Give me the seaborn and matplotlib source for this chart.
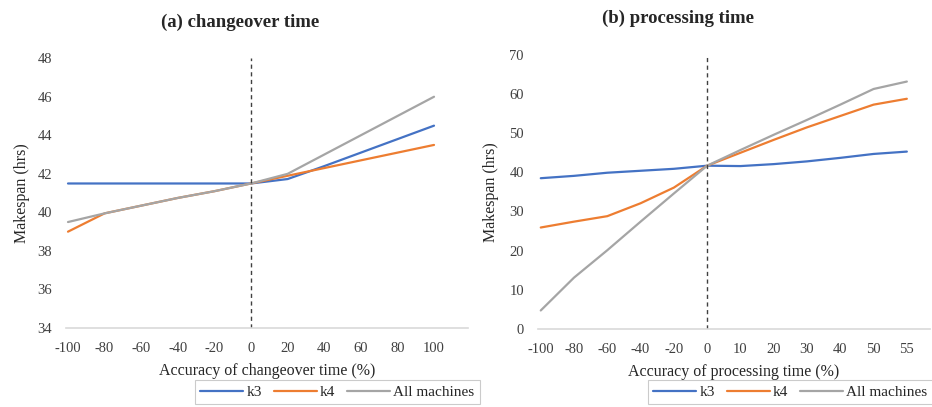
import matplotlib
matplotlib.use("Agg")
import matplotlib.pyplot as plt
import seaborn as sns
import numpy as np
import pandas as pd

# (a) changeover time accuracy
co_x = [-100, -80, -60, -40, -20, 0, 20, 40, 60, 80, 100]
co_k3 = [41.5, 41.5, 41.5, 41.5, 41.5, 41.5, 41.73, 42.4, 43.1, 43.8, 44.5]
co_k4 = [39.0, 39.95, 40.35, 40.75, 41.1, 41.5, 41.9, 42.3, 42.7, 43.1, 43.5]
co_all = [39.5, 39.95, 40.35, 40.75, 41.1, 41.5, 42.0, 43.0, 44.0, 45.0, 46.0]

# (b) processing time accuracy (evenly spaced categories)
pt_labels = ["-100", "-80", "-60", "-40", "-20", "0", "10", "20", "30", "40", "50", "55"]
pt_k3 = [38.5, 39.1, 39.9, 40.4, 40.9, 41.7, 41.6, 42.1, 42.8, 43.7, 44.7, 45.3]
pt_k4 = [25.9, 27.4, 28.8, 32.1, 36.1, 41.7, 45.0, 48.3, 51.5, 54.4, 57.3, 58.8]
pt_all = [4.7, 13.1, 20.1, 27.4, 34.6, 41.7, 45.7, 49.6, 53.4, 57.3, 61.3, 63.2]

series = ["k3", "k4", "All machines"]
palette = {"k3": "#4472C4", "k4": "#ED7D31", "All machines": "#A5A5A5"}

sns.set_style("white")
plt.rcParams['font.family'] = ['Liberation Serif', 'DejaVu Serif']
plt.rcParams['axes.unicode_minus'] = False


def long_df(x, cols):
    rows = []
    for name, vals in zip(series, cols):
        for xi, v in zip(x, vals):
            rows.append({"x": xi, "y": v, "series": name})
    return pd.DataFrame(rows)


df_a = long_df(co_x, [co_k3, co_k4, co_all])
pt_pos = np.arange(len(pt_labels))
df_b = long_df(pt_pos, [pt_k3, pt_k4, pt_all])

fig = plt.figure(figsize=(9.32, 4.07), dpi=100)
ax1 = fig.add_axes([0.071, 0.194, 0.431, 0.663])
ax2 = fig.add_axes([0.577, 0.192, 0.421, 0.673])


def style_axis(ax):
    for s in ["top", "right", "left"]:
        ax.spines[s].set_visible(False)
    ax.spines["bottom"].set_color("#D9D9D9")
    ax.spines["bottom"].set_linewidth(1.2)
    ax.tick_params(axis="both", length=0, labelsize=10.5, colors="#404040")
    ax.tick_params(axis="x", pad=10)
    ax.tick_params(axis="y", pad=10)
    ax.set_ylabel("Makespan (hrs)", fontsize=11.5, color="#262626")


# left panel
sns.lineplot(data=df_a, x="x", y="y", hue="series", palette=palette,
             linewidth=1.6, ax=ax1, legend=False)
ax1.axvline(0, color="#404040", linestyle="--", linewidth=1, dashes=(3, 2.5))
ax1.set_xlim(-101, 118.5)
ax1.set_ylim(34, 48)
ax1.set_xticks(co_x)
ax1.set_yticks(range(34, 49, 2))
style_axis(ax1)
ax1.set_xlabel("Accuracy of changeover time (%)", fontsize=11.5, color="#262626",
               labelpad=6)
ax1.yaxis.set_label_coords(-0.09, 0.5)
fig.text(0.258, 0.945, "(a) changeover time", ha="center", va="center",
         fontsize=13.5, fontweight="bold")

# right panel
sns.lineplot(data=df_b, x="x", y="y", hue="series", palette=palette,
             linewidth=1.6, ax=ax2, legend=False)
ax2.axvline(pt_labels.index("0"), color="#404040", linestyle="--", linewidth=1,
            dashes=(3, 2.5))
ax2.set_xlim(-0.09, 11.7)
ax2.set_ylim(0, 70)
ax2.set_xticks(pt_pos)
ax2.set_xticklabels(pt_labels)
ax2.set_yticks(range(0, 71, 10))
style_axis(ax2)
ax2.set_xlabel("Accuracy of processing time (%)", fontsize=11.5, color="#262626",
               labelpad=6)
ax2.yaxis.set_label_coords(-0.1, 0.5)
fig.text(0.727, 0.955, "(b) processing time", ha="center", va="center",
         fontsize=13.5, fontweight="bold")

# legends below each panel
handles = [plt.Line2D([], [], color=palette[s], linewidth=1.6) for s in series]
for cx in (0.362, 0.848):
    leg = fig.legend(handles, series, loc="lower center", bbox_to_anchor=(cx, -0.012),
                     ncol=3, frameon=True, fancybox=False, fontsize=11,
                     handlelength=2.8, columnspacing=0.8, handletextpad=0.2,
                     borderpad=0.35)
    leg.get_frame().set_edgecolor("#BFBFBF")
    leg.get_frame().set_linewidth(0.8)

fig.savefig("out.png", dpi=100)
